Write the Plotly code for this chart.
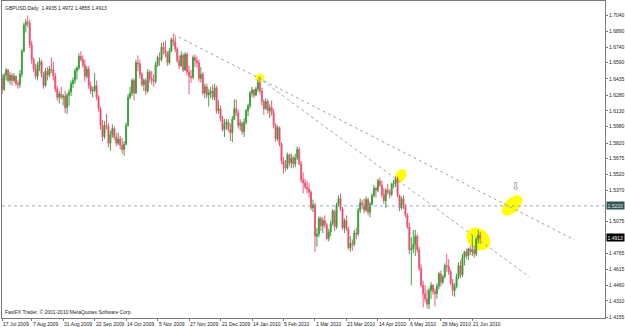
import math
import pandas as pd
import plotly.graph_objects as go

# ---------------- data (GBPUSD daily) ----------------
first_day = "2009-07-17"
closed_days = ["2009-12-25", "2010-01-01"]

open_ = [
    1.6440, 1.6335, 1.6470, 1.6520, 1.6420, 1.6470, 1.6420, 1.6460, 1.6390, 1.6380,
    1.6480, 1.6700, 1.6950, 1.6980, 1.6970, 1.6760, 1.6620, 1.6530, 1.6460, 1.6570,
    1.6600, 1.6480, 1.6370, 1.6510, 1.6470, 1.6530, 1.6520, 1.6460, 1.6340, 1.6260,
    1.6290, 1.6260, 1.6270, 1.6160, 1.6280, 1.6310, 1.6390, 1.6420, 1.6510, 1.6540,
    1.6650, 1.6620, 1.6570, 1.6460, 1.6530, 1.6370, 1.6320, 1.6330, 1.6370, 1.6260,
    1.6150, 1.5990, 1.5880, 1.5990, 1.5980, 1.5820, 1.5900, 1.5960, 1.5880, 1.5820,
    1.5860, 1.5800, 1.5760, 1.5810, 1.5990, 1.6260, 1.6300, 1.6420, 1.6300, 1.6590,
    1.6580, 1.6480, 1.6380, 1.6420, 1.6320, 1.6500, 1.6440, 1.6420, 1.6410, 1.6570,
    1.6640, 1.6620, 1.6740, 1.6710, 1.6680, 1.6590, 1.6700, 1.6810, 1.6790, 1.6720,
    1.6610, 1.6560, 1.6660, 1.6520, 1.6670, 1.6500, 1.6460, 1.6450, 1.6640, 1.6610,
    1.6590, 1.6440, 1.6480, 1.6300, 1.6360, 1.6280, 1.6300, 1.6320, 1.6260, 1.6350,
    1.6130, 1.6150, 1.6050, 1.5950, 1.6000, 1.6020, 1.5950, 1.5920, 1.6050, 1.6150,
    1.6110, 1.5990, 1.6010, 1.5930, 1.6020, 1.6130, 1.6180, 1.6300, 1.6330, 1.6280,
    1.6340, 1.6400, 1.6320, 1.6220, 1.6150, 1.6220, 1.6130, 1.6160, 1.6110, 1.5990,
    1.5860, 1.5970, 1.5810, 1.5650, 1.5610, 1.5580, 1.5710, 1.5630, 1.5680, 1.5620,
    1.5680, 1.5760, 1.5620, 1.5470, 1.5440, 1.5400, 1.5380, 1.5350, 1.5200, 1.5230,
    1.4930, 1.4950, 1.5100, 1.5030, 1.5080, 1.5040, 1.4910, 1.4970, 1.5050, 1.5170,
    1.5020, 1.5230, 1.5290, 1.5190, 1.5010, 1.5080, 1.5000, 1.4820, 1.4860, 1.4850,
    1.4960, 1.4950, 1.5180, 1.5250, 1.5230, 1.5180, 1.5280, 1.5160, 1.5240, 1.5320,
    1.5390, 1.5370, 1.5460, 1.5420, 1.5330, 1.5270, 1.5370, 1.5350, 1.5330, 1.5430,
    1.5440, 1.5480, 1.5320, 1.5200, 1.5290, 1.5230, 1.5130, 1.5020, 1.4800, 1.4810,
    1.4850, 1.4930, 1.4800, 1.4620, 1.4460, 1.4380, 1.4330, 1.4280, 1.4410, 1.4460,
    1.4400, 1.4380, 1.4450, 1.4570, 1.4490, 1.4540, 1.4650, 1.4640, 1.4590, 1.4480,
    1.4410, 1.4450, 1.4540, 1.4650, 1.4560, 1.4730, 1.4780, 1.4740, 1.4810, 1.4780,
    1.4800, 1.4760, 1.4900, 1.4935,
]
high = [
    1.6480, 1.6490, 1.6540, 1.6530, 1.6500, 1.6490, 1.6490, 1.6470, 1.6420, 1.6520,
    1.6720, 1.6970, 1.7010, 1.7043, 1.7000, 1.6800, 1.6640, 1.6580, 1.6600, 1.6640,
    1.6620, 1.6500, 1.6540, 1.6550, 1.6560, 1.6640, 1.6600, 1.6490, 1.6370, 1.6320,
    1.6360, 1.6290, 1.6320, 1.6300, 1.6340, 1.6420, 1.6450, 1.6540, 1.6560, 1.6680,
    1.6700, 1.6660, 1.6620, 1.6560, 1.6560, 1.6410, 1.6360, 1.6490, 1.6420, 1.6280,
    1.6170, 1.6040, 1.6030, 1.6100, 1.6010, 1.5940, 1.6000, 1.5980, 1.5920, 1.5920,
    1.5890, 1.5870, 1.5840, 1.6020, 1.6290, 1.6360, 1.6440, 1.6440, 1.6620, 1.6660,
    1.6620, 1.6500, 1.6440, 1.6440, 1.6530, 1.6520, 1.6510, 1.6480, 1.6600, 1.6660,
    1.6690, 1.6780, 1.6790, 1.6800, 1.6700, 1.6730, 1.6830, 1.6870, 1.6840, 1.6740,
    1.6660, 1.6700, 1.6680, 1.6690, 1.6690, 1.6560, 1.6520, 1.6660, 1.6670, 1.6650,
    1.6620, 1.6550, 1.6500, 1.6390, 1.6390, 1.6340, 1.6360, 1.6380, 1.6390, 1.6370,
    1.6230, 1.6180, 1.6080, 1.6050, 1.6050, 1.6050, 1.6010, 1.6080, 1.6240, 1.6240,
    1.6140, 1.6050, 1.6030, 1.6060, 1.6150, 1.6200, 1.6320, 1.6360, 1.6340, 1.6360,
    1.6430, 1.6457, 1.6350, 1.6240, 1.6250, 1.6240, 1.6190, 1.6230, 1.6150, 1.6010,
    1.5990, 1.5980, 1.5830, 1.5690, 1.5660, 1.5730, 1.5720, 1.5720, 1.5700, 1.5720,
    1.5790, 1.5780, 1.5650, 1.5540, 1.5480, 1.5460, 1.5440, 1.5370, 1.5280, 1.5250,
    1.5010, 1.5120, 1.5120, 1.5110, 1.5130, 1.5060, 1.5000, 1.5080, 1.5190, 1.5180,
    1.5250, 1.5320, 1.5340, 1.5210, 1.5100, 1.5130, 1.5020, 1.4930, 1.4900, 1.4990,
    1.5010, 1.5200, 1.5290, 1.5280, 1.5290, 1.5310, 1.5300, 1.5260, 1.5340, 1.5420,
    1.5400, 1.5480, 1.5490, 1.5460, 1.5390, 1.5390, 1.5430, 1.5380, 1.5440, 1.5470,
    1.5500, 1.5500, 1.5330, 1.5310, 1.5320, 1.5240, 1.5150, 1.5060, 1.4920, 1.4990,
    1.4990, 1.4950, 1.4830, 1.4660, 1.4500, 1.4460, 1.4420, 1.4440, 1.4490, 1.4470,
    1.4430, 1.4480, 1.4590, 1.4600, 1.4560, 1.4670, 1.4760, 1.4710, 1.4610, 1.4520,
    1.4480, 1.4570, 1.4680, 1.4700, 1.4760, 1.4790, 1.4810, 1.4820, 1.4840, 1.4940,
    1.4840, 1.4920, 1.4990, 1.4972,
]
low = [
    1.6290, 1.6320, 1.6420, 1.6400, 1.6380, 1.6370, 1.6400, 1.6370, 1.6340, 1.6350,
    1.6450, 1.6690, 1.6880, 1.6930, 1.6730, 1.6580, 1.6500, 1.6430, 1.6420, 1.6510,
    1.6450, 1.6340, 1.6360, 1.6420, 1.6450, 1.6490, 1.6420, 1.6310, 1.6230, 1.6200,
    1.6240, 1.6180, 1.6110, 1.6100, 1.6180, 1.6270, 1.6350, 1.6390, 1.6430, 1.6520,
    1.6600, 1.6540, 1.6410, 1.6440, 1.6340, 1.6290, 1.6260, 1.6310, 1.6230, 1.6120,
    1.5950, 1.5840, 1.5860, 1.5950, 1.5780, 1.5750, 1.5870, 1.5850, 1.5790, 1.5800,
    1.5760, 1.5720, 1.5700, 1.5800, 1.5980, 1.6240, 1.6270, 1.6230, 1.6290, 1.6510,
    1.6440, 1.6360, 1.6320, 1.6280, 1.6300, 1.6400, 1.6380, 1.6360, 1.6390, 1.6550,
    1.6560, 1.6600, 1.6670, 1.6640, 1.6560, 1.6570, 1.6690, 1.6750, 1.6690, 1.6590,
    1.6530, 1.6550, 1.6500, 1.6510, 1.6470, 1.6290, 1.6400, 1.6430, 1.6550, 1.6540,
    1.6410, 1.6400, 1.6280, 1.6250, 1.6250, 1.6170, 1.6250, 1.6230, 1.6230, 1.6100,
    1.6100, 1.6030, 1.5930, 1.5880, 1.5950, 1.5930, 1.5840, 1.5830, 1.6040, 1.6080,
    1.5960, 1.5940, 1.5900, 1.5880, 1.6000, 1.6080, 1.6150, 1.6260, 1.6250, 1.6270,
    1.6310, 1.6290, 1.6180, 1.6090, 1.6140, 1.6100, 1.6060, 1.6080, 1.5960, 1.5830,
    1.5840, 1.5790, 1.5620, 1.5530, 1.5550, 1.5570, 1.5600, 1.5580, 1.5580, 1.5590,
    1.5660, 1.5610, 1.5440, 1.5340, 1.5380, 1.5340, 1.5300, 1.5180, 1.5160, 1.4781,
    1.4830, 1.4920, 1.4980, 1.4960, 1.5010, 1.4890, 1.4880, 1.4930, 1.5030, 1.4980,
    1.5000, 1.5210, 1.5170, 1.4990, 1.4960, 1.4980, 1.4800, 1.4780, 1.4790, 1.4830,
    1.4900, 1.4930, 1.5150, 1.5190, 1.5150, 1.5160, 1.5130, 1.5110, 1.5220, 1.5300,
    1.5300, 1.5350, 1.5400, 1.5300, 1.5240, 1.5200, 1.5330, 1.5290, 1.5310, 1.5390,
    1.5400, 1.5300, 1.5170, 1.5180, 1.5190, 1.5110, 1.5000, 1.4760, 1.4460, 1.4770,
    1.4740, 1.4770, 1.4600, 1.4440, 1.4250, 1.4300, 1.4240, 1.4231, 1.4330, 1.4370,
    1.4260, 1.4330, 1.4420, 1.4450, 1.4470, 1.4530, 1.4590, 1.4560, 1.4460, 1.4360,
    1.4350, 1.4430, 1.4520, 1.4530, 1.4540, 1.4650, 1.4710, 1.4700, 1.4750, 1.4740,
    1.4720, 1.4740, 1.4860, 1.4855,
]
close = [
    1.6330, 1.6470, 1.6520, 1.6420, 1.6470, 1.6420, 1.6460, 1.6390, 1.6380, 1.6480,
    1.6700, 1.6950, 1.6980, 1.6970, 1.6760, 1.6620, 1.6530, 1.6460, 1.6570, 1.6600,
    1.6480, 1.6370, 1.6510, 1.6470, 1.6530, 1.6520, 1.6460, 1.6340, 1.6260, 1.6290,
    1.6260, 1.6270, 1.6160, 1.6280, 1.6310, 1.6390, 1.6420, 1.6510, 1.6540, 1.6650,
    1.6620, 1.6570, 1.6460, 1.6530, 1.6370, 1.6320, 1.6330, 1.6370, 1.6260, 1.6150,
    1.5990, 1.5880, 1.5990, 1.5980, 1.5820, 1.5900, 1.5960, 1.5880, 1.5820, 1.5860,
    1.5800, 1.5760, 1.5810, 1.5990, 1.6260, 1.6300, 1.6420, 1.6300, 1.6590, 1.6580,
    1.6480, 1.6380, 1.6420, 1.6320, 1.6500, 1.6440, 1.6420, 1.6410, 1.6570, 1.6640,
    1.6620, 1.6740, 1.6710, 1.6680, 1.6590, 1.6700, 1.6810, 1.6790, 1.6720, 1.6610,
    1.6560, 1.6660, 1.6520, 1.6670, 1.6500, 1.6460, 1.6450, 1.6640, 1.6610, 1.6590,
    1.6440, 1.6480, 1.6300, 1.6360, 1.6280, 1.6300, 1.6320, 1.6260, 1.6350, 1.6130,
    1.6150, 1.6050, 1.5950, 1.6000, 1.6020, 1.5950, 1.5920, 1.6050, 1.6150, 1.6110,
    1.5990, 1.6010, 1.5930, 1.6020, 1.6130, 1.6180, 1.6300, 1.6330, 1.6280, 1.6340,
    1.6400, 1.6320, 1.6220, 1.6150, 1.6220, 1.6130, 1.6160, 1.6110, 1.5990, 1.5860,
    1.5970, 1.5810, 1.5650, 1.5610, 1.5580, 1.5710, 1.5630, 1.5680, 1.5620, 1.5680,
    1.5760, 1.5620, 1.5470, 1.5440, 1.5400, 1.5380, 1.5350, 1.5200, 1.5230, 1.4930,
    1.4950, 1.5100, 1.5030, 1.5080, 1.5040, 1.4910, 1.4970, 1.5050, 1.5170, 1.5020,
    1.5230, 1.5290, 1.5190, 1.5010, 1.5080, 1.5000, 1.4820, 1.4860, 1.4850, 1.4960,
    1.4950, 1.5180, 1.5250, 1.5230, 1.5180, 1.5280, 1.5160, 1.5240, 1.5320, 1.5390,
    1.5370, 1.5460, 1.5420, 1.5330, 1.5270, 1.5370, 1.5350, 1.5330, 1.5430, 1.5440,
    1.5480, 1.5320, 1.5200, 1.5290, 1.5230, 1.5130, 1.5020, 1.4800, 1.4810, 1.4850,
    1.4930, 1.4800, 1.4620, 1.4460, 1.4380, 1.4330, 1.4280, 1.4410, 1.4460, 1.4400,
    1.4380, 1.4450, 1.4570, 1.4490, 1.4540, 1.4650, 1.4640, 1.4590, 1.4480, 1.4410,
    1.4450, 1.4540, 1.4650, 1.4560, 1.4730, 1.4780, 1.4740, 1.4810, 1.4780, 1.4800,
    1.4760, 1.4900, 1.4940, 1.4913,
]

date_labels = ["17 Jul 2009", "7 Aug 2009", "31 Aug 2009", "22 Sep 2009", "14 Oct 2009",
               "5 Nov 2009", "27 Nov 2009", "21 Dec 2009", "14 Jan 2010", "5 Feb 2010",
               "1 Mar 2010", "23 Mar 2010", "14 Apr 2010", "6 May 2010", "28 May 2010",
               "21 Jun 2010"]
price_ticks = [1.7040, 1.6890, 1.6740, 1.6590, 1.6435, 1.6280, 1.6130, 1.5980, 1.5820,
               1.5675, 1.5520, 1.5370, 1.5075, 1.4765, 1.4615, 1.4460, 1.4310, 1.4155]
title_text = "GBPUSD,Daily  1.4935 1.4972 1.4855 1.4913"
footer_text = "FastFX Trader, \u00a9 2001-2010 MetaQuotes Software Corp."
hline_price = 1.5220
last_price = 1.4913
trend_lines = [((87, 1.6862), (291, 1.4894)), ((130, 1.6450), (268, 1.4540))]
# highlight ellipses: (bar, price, semi-axis a px, semi-axis b px, angle deg)
ellipses = [(131, 1.6444, 4.4, 4.2, 0), (202.5, 1.5506, 7.5, 5.0, 60),
            (259.2, 1.5224, 12.5, 7.0, 45), (242.1, 1.4903, 13.0, 10.0, -40)]
arrow_at = (260.9, 1.5410)

n = len(close)
assert len(open_) == n and len(high) == n and len(low) == n

days = [d for d in pd.bdate_range(first_day, periods=n + 10)
        if d.strftime("%Y-%m-%d") not in closed_days][:n]
day_index = {d.strftime("%Y-%m-%d"): i for i, d in enumerate(days)}
xs = list(range(n))

# ---------------- layout geometry ----------------
W, H = 625, 327
ML, MR, MT, MB = 2, 20, 1, 9
XR = [-0.10, 306.46]
YR = [1.41472, 1.71807]
px_x = (W - ML - MR) / (XR[1] - XR[0])
px_y = (H - MT - MB) / (YR[1] - YR[0])

FONT = "Liberation Sans"
TXT = "#222222"
DOT = "#9aaabd"

fig = go.Figure()
fig.add_trace(go.Candlestick(
    x=xs, open=open_, high=high, low=low, close=close,
    increasing=dict(line=dict(color="#3da33d", width=1), fillcolor="#0e870e"),
    decreasing=dict(line=dict(color="#ee5a7a", width=1), fillcolor="#dc143c"),
    whiskerwidth=0, hoverinfo="skip", showlegend=False,
))

shapes = []
for (ex, ey, a, b, ang) in ellipses:
    th = math.radians(ang)
    pts = []
    for k in range(49):
        t = 2 * math.pi * k / 48
        ux, uy = a * math.cos(t), b * math.sin(t)
        dx = ux * math.cos(th) - uy * math.sin(th)
        dy = ux * math.sin(th) + uy * math.cos(th)
        pts.append((ex + dx / px_x, ey + dy / px_y))
    path = "M " + " L ".join(f"{p[0]:.4f},{p[1]:.6f}" for p in pts) + " Z"
    shapes.append(dict(type="path", path=path, xref="x", yref="y", fillcolor="#ffff00",
                       line=dict(width=0), layer="below"))

shapes.append(dict(type="line", xref="paper", yref="y", x0=0, x1=1, y0=hline_price, y1=hline_price,
                   line=dict(color=DOT, width=1, dash="dot")))
for (p0, p1) in trend_lines:
    shapes.append(dict(type="line", xref="x", yref="y", x0=p0[0], y0=p0[1], x1=p1[0], y1=p1[1],
                       line=dict(color=DOT, width=1, dash="dot")))

annotations = [
    dict(text=title_text, xref="paper", yref="paper", x=0, y=1, xanchor="left", yanchor="top",
         xshift=1, yshift=-2, showarrow=False, font=dict(family=FONT, size=5, color=TXT)),
    dict(text=footer_text, xref="paper", yref="paper", x=0, y=0, xanchor="left", yanchor="bottom",
         xshift=1, yshift=1, showarrow=False, font=dict(family=FONT, size=5, color=TXT)),
    dict(text="\u21e9", xref="x", yref="y", x=arrow_at[0], y=arrow_at[1], showarrow=False,
         font=dict(family="DejaVu Sans", size=11, color="#8a8a8a")),
    dict(text=f"{hline_price:.4f}", xref="paper", yref="y", x=1, y=hline_price, xanchor="left",
         yanchor="middle", xshift=1, showarrow=False, bgcolor="#2f5655", borderpad=0.5,
         font=dict(family=FONT, size=5, color="#e6e6e6")),
    dict(text=f"{last_price:.4f}", xref="paper", yref="y", x=1, y=last_price, xanchor="left",
         yanchor="middle", xshift=1, showarrow=False, bgcolor="#000000", borderpad=0.5,
         font=dict(family=FONT, size=5, color="#ffffff")),
]
label_idx = []
for lab in date_labels:
    key = pd.to_datetime(lab, format="%d %b %Y").strftime("%Y-%m-%d")
    i = day_index[key]
    label_idx.append(i)
    annotations.append(dict(text=lab, xref="x", yref="paper", x=i, y=0, xanchor="left",
                            yanchor="top", xshift=-1, yshift=-1, showarrow=False,
                            font=dict(family=FONT, size=5, color=TXT)))

fig.update_layout(
    width=W, height=H, margin=dict(l=ML, r=MR, t=MT, b=MB, pad=0),
    paper_bgcolor="white", plot_bgcolor="white",
    shapes=shapes, annotations=annotations, showlegend=False,
    xaxis=dict(range=XR, rangeslider=dict(visible=False), showgrid=False, zeroline=False,
               showline=True, mirror=True, linecolor="#7a7a7a", linewidth=1,
               tickvals=label_idx, ticktext=[""] * len(label_idx), ticks="outside",
               ticklen=2, tickcolor="#7a7a7a", fixedrange=True),
    yaxis=dict(range=YR, side="right", showgrid=False, zeroline=False,
               showline=True, mirror=True, linecolor="#7a7a7a", linewidth=1,
               tickvals=price_ticks, ticktext=[f"{v:.4f}" for v in price_ticks],
               ticks="outside", ticklen=2, tickcolor="#7a7a7a",
               tickfont=dict(family=FONT, size=5, color=TXT), fixedrange=True),
)

fig.write_html("out.html")
